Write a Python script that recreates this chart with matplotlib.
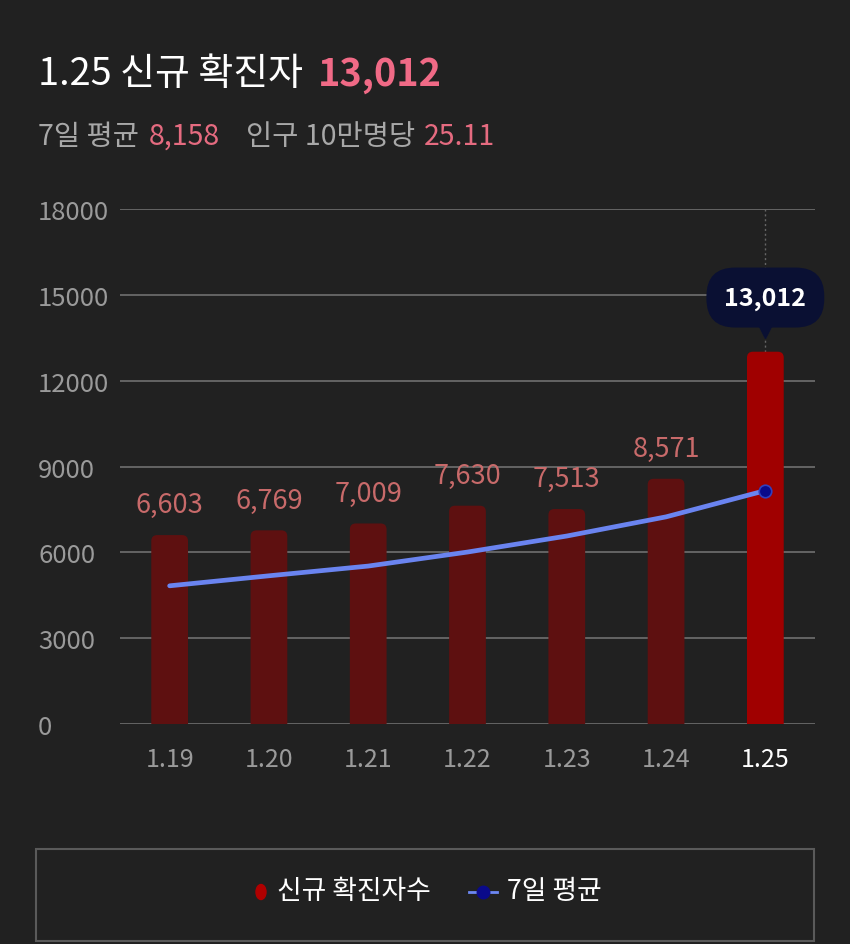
import matplotlib
matplotlib.use("Agg")
import matplotlib.pyplot as plt
import matplotlib.transforms as mtrans
from matplotlib.patches import Rectangle, Ellipse, FancyBboxPatch
from matplotlib.lines import Line2D

plt.rcParams['font.family'] = ['Noto Sans CJK KR', 'DejaVu Sans']

dates = ["1.19", "1.20", "1.21", "1.22", "1.23", "1.24", "1.25"]
new_cases = [6603, 6769, 7009, 7630, 7513, 8571, 13012]
avg7 = [4830, 5180, 5520, 6010, 6570, 7240, 8158]
yticks = [0, 3000, 6000, 9000, 12000, 15000, 18000]

BG = "#212121"
W, H = 850, 945
fig = plt.figure(figsize=(8.5, 9.45), dpi=100, facecolor=BG)
ax = fig.add_axes([120/W, 220/H, 695/W, 515/H])
ax.set_facecolor(BG)
ax.set_xlim(-0.5, len(dates) - 0.5)
ax.set_ylim(0, 18000)

x = list(range(len(dates)))
colors = ["#5e1010"] * (len(dates) - 1) + ["#a00000"]
bars = ax.bar(x, new_cases, width=0.37, color=colors, zorder=3)

# rounded tops: replace rectangles by rounded boxes (bottom pushed below axis and clipped)
fig.canvas.draw()
p0 = ax.transData.transform((0, 0))
p1 = ax.transData.transform((1, 1))
aspect = (p1[0] - p0[0]) / (p1[1] - p0[1])  # y-units per x-unit
r = 0.06
for b in bars:
    bx, bw, bh = b.get_x(), b.get_width(), b.get_height()
    fb = FancyBboxPatch((bx, -r * aspect), bw, bh + r * aspect,
                        boxstyle=f"round,pad=0,rounding_size={r}", mutation_aspect=aspect,
                        fc=b.get_facecolor(), ec="none", zorder=3, clip_on=True)
    ax.add_patch(fb)
    b.set_visible(False)

ax.plot(x, avg7, color="#6a84f0", lw=3.4, zorder=4, solid_capstyle='round')
ax.plot(x[-1], avg7[-1], 'o', ms=9, mfc="#0a0a8a", mec="#3040c0", mew=1.2, zorder=5)

ax.set_yticks(yticks)
ax.yaxis.grid(True, color="#6a6a6a", lw=1.3, zorder=0)
ax.tick_params(axis='both', length=0)
ax.set_yticklabels([str(v) for v in yticks], color="#9a9a9a", fontsize=18.5)
for lbl in ax.get_yticklabels():
    lbl.set_horizontalalignment('left')
ax.tick_params(axis='y', pad=59)
ax.set_xticks(x)
ax.set_xticklabels(dates, fontsize=18)
for i, lbl in enumerate(ax.get_xticklabels()):
    lbl.set_color("#9a9a9a" if i < len(dates) - 1 else "#ffffff")
ax.tick_params(axis='x', pad=16)
for s in ax.spines.values():
    s.set_visible(False)

# value labels
for i in range(len(dates) - 1):
    ax.annotate(f"{new_cases[i]:,}", (x[i], new_cases[i]), xytext=(0, 12),
                textcoords='offset points', ha='center', va='bottom',
                color="#c86a6a", fontsize=19.5)

# dotted vertical line over last bar
ax.plot([x[-1], x[-1]], [new_cases[-1], 18000], ls=(0, (1.5, 2)), color="#666666", lw=1, zorder=2)

# tooltip
ax.annotate(f"{new_cases[-1]:,}", (x[-1], new_cases[-1]), xytext=(0, 39),
            textcoords='offset points', ha='center', va='center',
            color="white", fontsize=18, fontweight='bold', zorder=6,
            bbox=dict(boxstyle="round,pad=0.72,rounding_size=1.15", fc="#0a1033", ec="none"))
tri = ax.plot([x[-1]], [new_cases[-1]], marker='v', ms=13, color="#0a1033",
              zorder=6, linestyle='none')[0]
tri.set_transform(ax.transData + mtrans.ScaledTranslation(0, 16/72, fig.dpi_scale_trans))

# chained header texts
renderer = fig.canvas.get_renderer()
def chain(parts, x0, yc, size):
    xp = x0
    for t, c, w, gap in parts:
        tt = fig.text(xp / W, 1 - yc / H, t, color=c, fontsize=size, fontweight=w,
                      va='center', ha='left')
        bb = tt.get_window_extent(renderer)
        xp += bb.width + gap

chain([("1.25 신규 확진자", "white", "medium", 15),
       ("13,012", "#f06a86", "bold", 0)], 38, 75, 27.3)
chain([("7일 평균", "#a8a8a8", "normal", 10), ("8,158", "#e56b80", "normal", 26),
       ("인구 10만명당", "#a8a8a8", "normal", 8), ("25.11", "#e56b80", "normal", 0)], 38, 137, 20.5)

# legend box
fig.patches.append(Rectangle((36/W, 1 - 942/H), 778/W, 92/H, transform=fig.transFigure,
                             fill=False, ec="#5a5a5a", lw=1.5))
fig.patches.append(Ellipse((261/W, 1 - 893/H), 10/W, 15/H, transform=fig.transFigure, color="#b00000"))
fig.text(277/W, 1 - 892/H, "신규 확진자수", color="white", fontsize=19.3, va='center', ha='left')
fig.lines.append(Line2D([469/W, 497/W], [1 - 893/H, 1 - 893/H], transform=fig.transFigure,
                        color="#6d88f2", lw=2))
fig.lines.append(Line2D([483/W], [1 - 893/H], marker='o', ms=9, mfc="#0a0a8a", mec="#0a0a8a",
                        transform=fig.transFigure))
fig.text(507/W, 1 - 892/H, "7일 평균", color="white", fontsize=19.3, va='center', ha='left')

fig.savefig("out.png", dpi=100, facecolor=BG)
